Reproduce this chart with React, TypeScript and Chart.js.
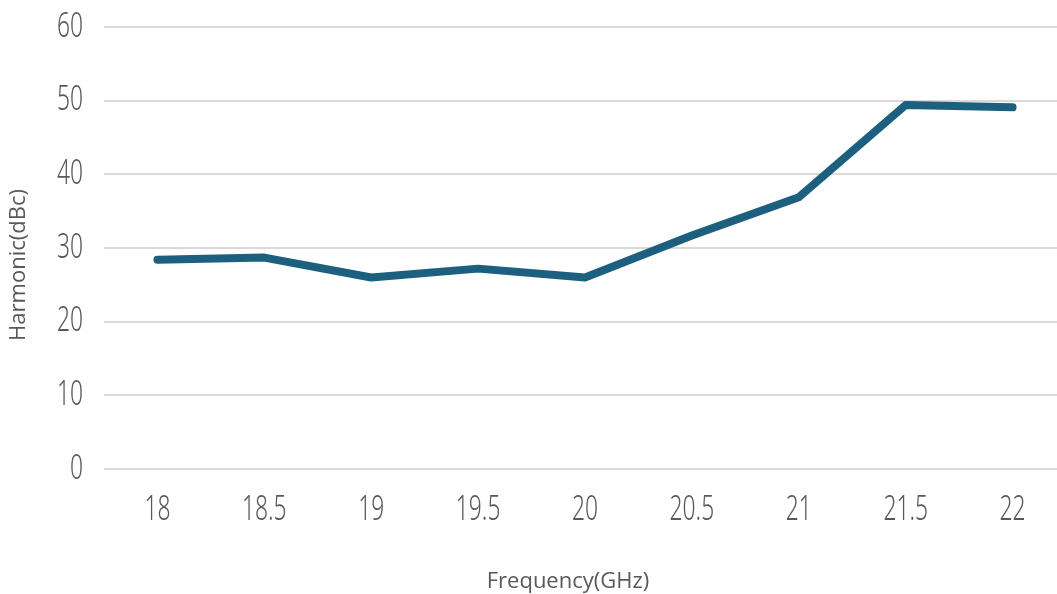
import React, { useEffect, useRef } from "react";
import { Chart, registerables } from "chart.js";

Chart.register(...registerables);

const categories = ["18", "18.5", "19", "19.5", "20", "20.5", "21", "21.5", "22"];
const harmonic = [28.4, 28.7, 26.0, 27.2, 26.0, 31.7, 36.9, 49.4, 49.1];
const yTicks = [0, 10, 20, 30, 40, 50, 60];
const xTitle = "Frequency(GHz)";
const yTitle = "Harmonic(dBc)";

const TICK_FONT = "300 34px 'Noto Sans', sans-serif";
const SQUEEZE = 0.67;

const labelPlugin = {
  id: "customLabels",
  afterDraw(chart: any) {
    const ctx = chart.ctx;
    const xs = chart.scales.x;
    const ys = chart.scales.y;
    ctx.save();
    ctx.fillStyle = "#595959";
    ctx.font = TICK_FONT;
    ctx.textBaseline = "middle";
    ctx.textAlign = "right";
    yTicks.forEach((v) => {
      const py = ys.getPixelForValue(v);
      ctx.save();
      ctx.translate(83, py);
      ctx.scale(SQUEEZE, 1);
      ctx.fillText(String(v), 0, 0);
      ctx.restore();
    });
    ctx.textAlign = "center";
    categories.forEach((c, i) => {
      const px = xs.getPixelForValue(i);
      ctx.save();
      ctx.translate(px, 510);
      ctx.scale(SQUEEZE, 1);
      ctx.fillText(c, 0, 0);
      ctx.restore();
    });
    ctx.font = "22px 'Open Sans', 'Noto Sans', sans-serif";
    ctx.textAlign = "center";
    ctx.fillText(xTitle, 568, 582);
    ctx.translate(19, 265);
    ctx.rotate(-Math.PI / 2);
    ctx.fillText(yTitle, 0, 0);
    ctx.restore();
  },
};

export default function App() {
  const ref = useRef<HTMLCanvasElement>(null);
  useEffect(() => {
    if (!ref.current) return;
    const chart = new Chart(ref.current, {
      type: "line",
      data: {
        labels: categories,
        datasets: [
          {
            data: harmonic,
            borderColor: "#1d5f7e",
            backgroundColor: "#1d5f7e",
            borderWidth: 8,
            borderCapStyle: "round",
            borderJoinStyle: "round",
            pointRadius: 0,
            tension: 0,
          },
        ],
      },
      options: {
        responsive: false,
        animation: false,
        layout: { padding: { top: 27, right: 0, left: 0, bottom: 0 } },
        plugins: { legend: { display: false }, tooltip: { enabled: false } },
        scales: {
          x: {
            offset: true,
            grid: { display: false, drawTicks: false },
            border: { display: false },
            ticks: { display: false },
            afterFit(scale: any) {
              scale.height = 125;
              scale.paddingLeft = 0;
              scale.paddingRight = 0;
            },
          },
          y: {
            min: 0,
            max: 60,
            afterBuildTicks(scale: any) {
              scale.ticks = yTicks.map((v) => ({ value: v }));
            },
            grid: { color: "#d9d9d9", lineWidth: 2, drawTicks: false },
            border: { display: false },
            ticks: { display: false },
            afterFit(scale: any) {
              scale.width = 104;
              scale.paddingTop = 0;
              scale.paddingBottom = 0;
            },
          },
        },
      },
      plugins: [labelPlugin],
    });
    return () => chart.destroy();
  }, []);
  return (
    <div style={{ position: "fixed", left: 0, top: 0, width: 1057, height: 594, overflow: "hidden", background: "#fff" }}>
      <canvas ref={ref} width={1066} height={594} style={{ display: "block", width: 1066, height: 594 }} />
    </div>
  );
}
